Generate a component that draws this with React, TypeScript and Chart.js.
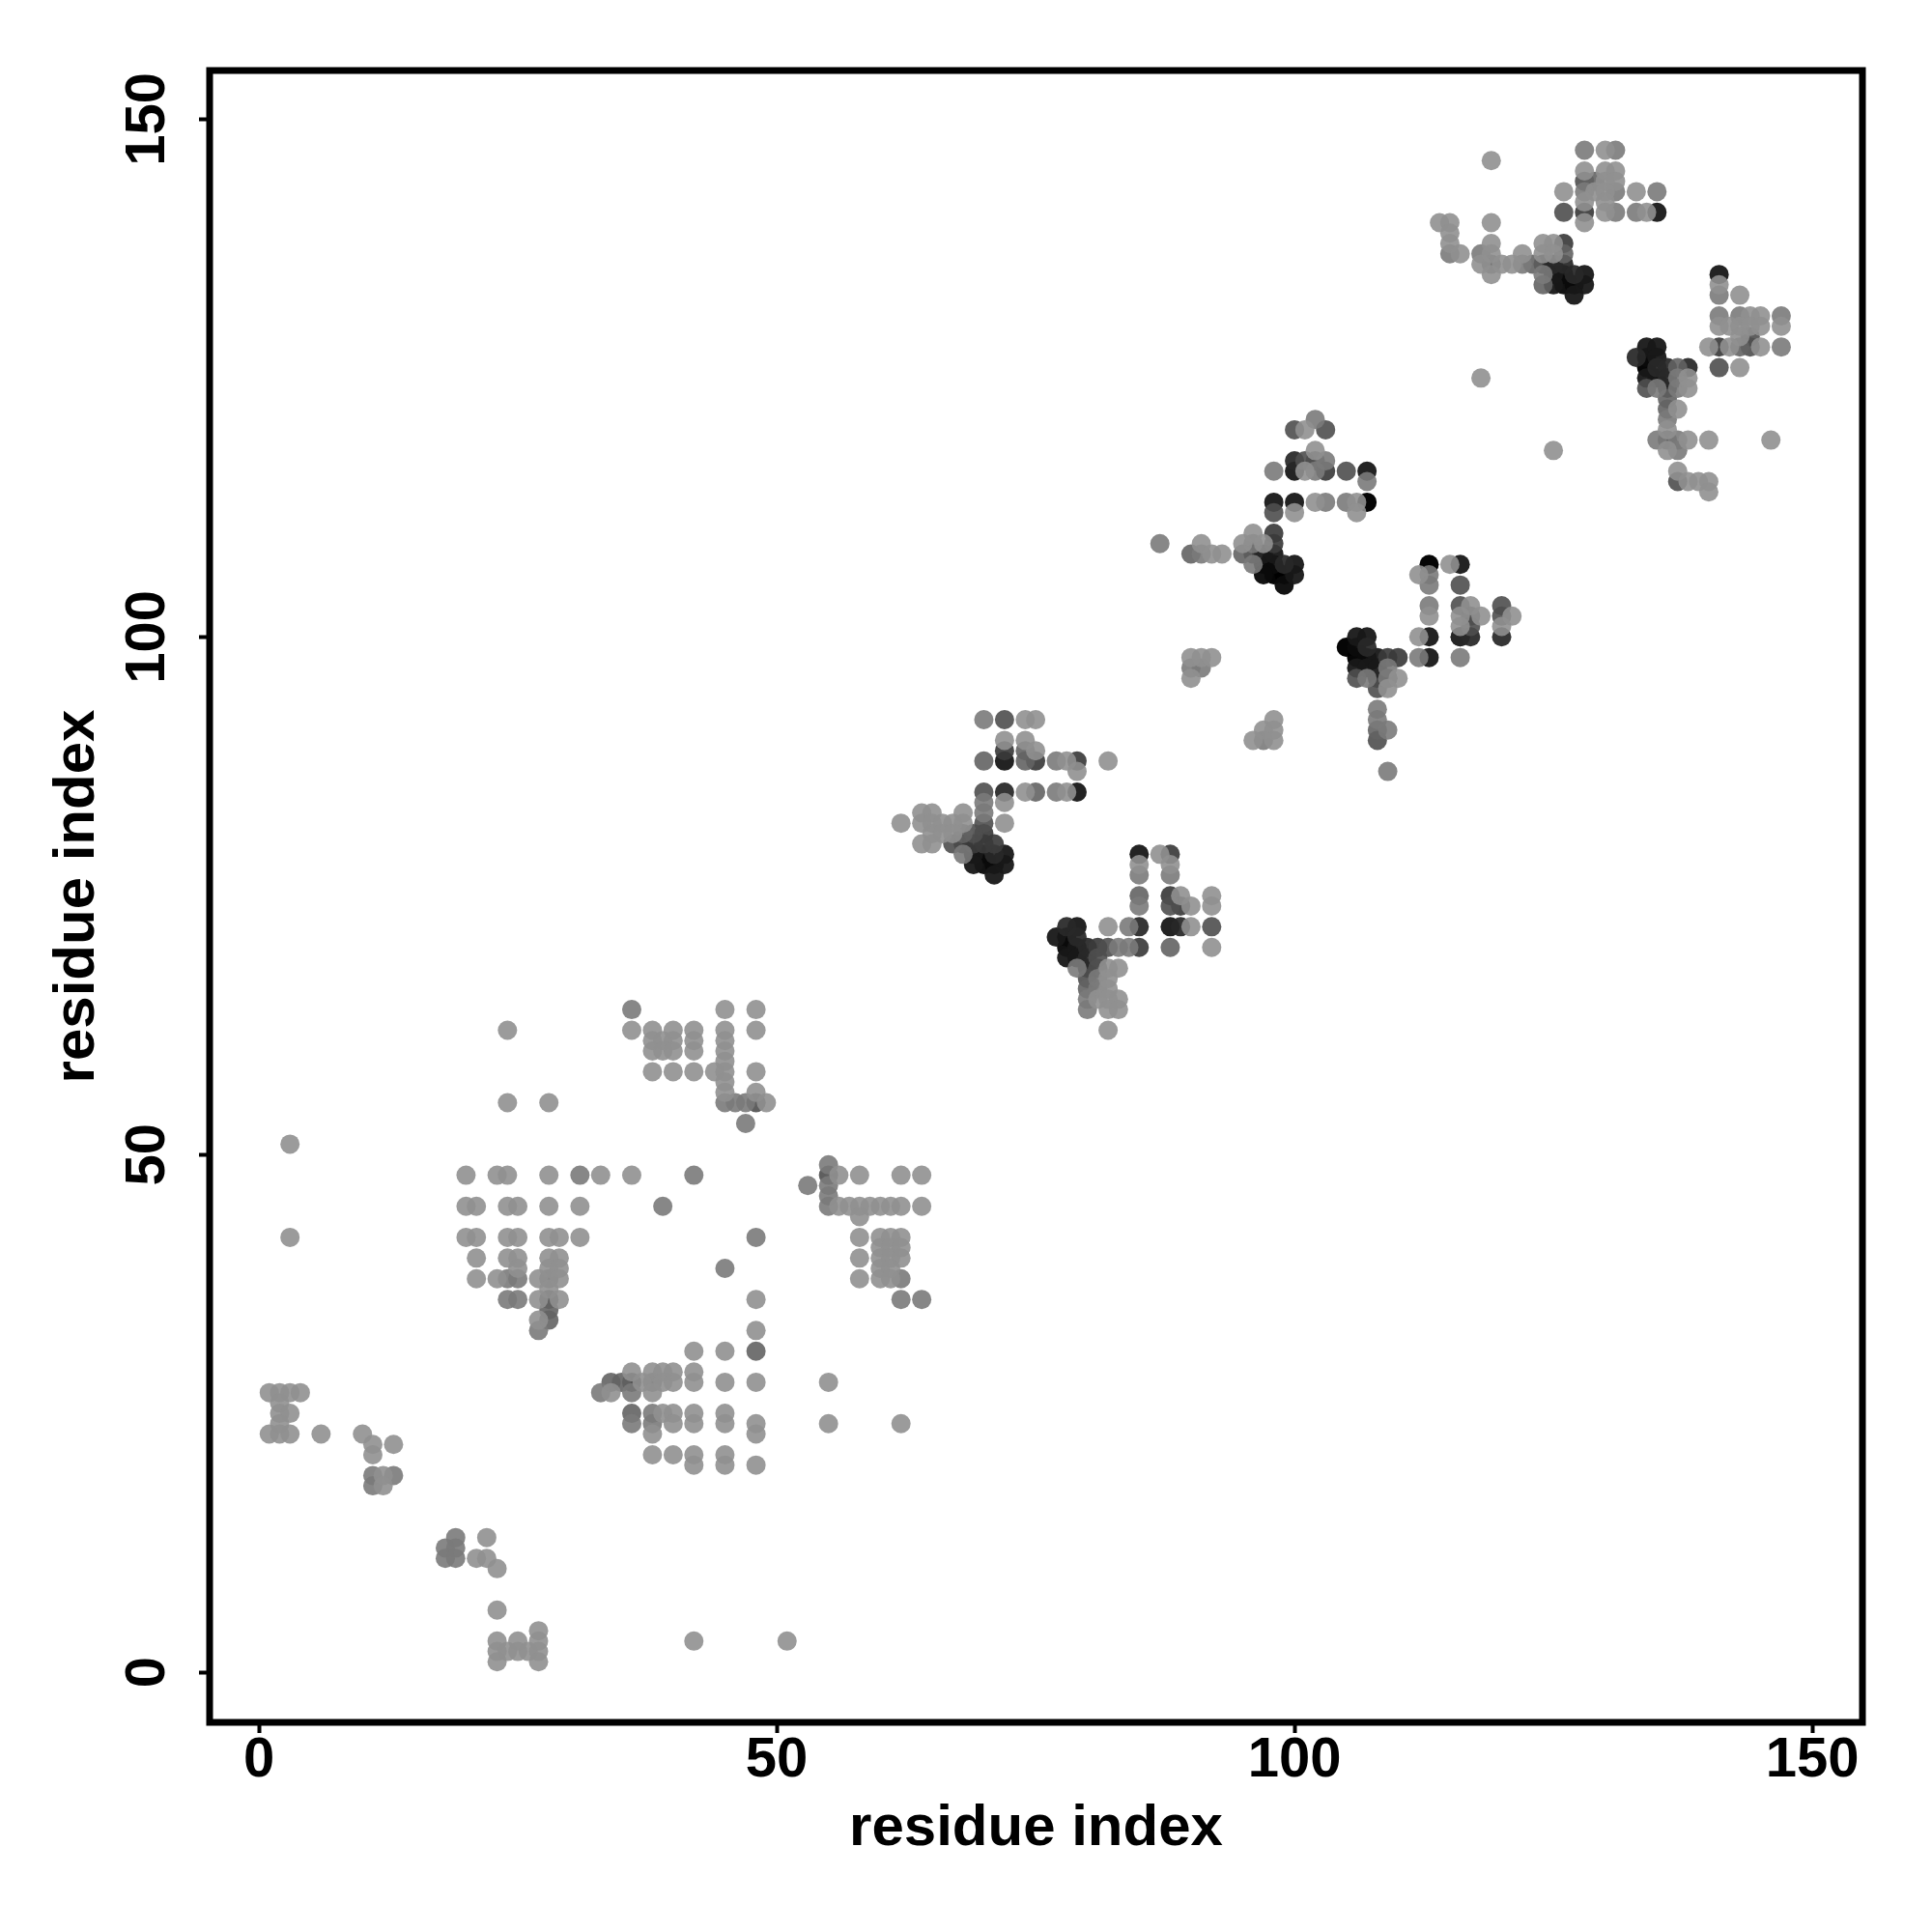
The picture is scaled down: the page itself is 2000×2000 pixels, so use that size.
import React, { useEffect, useRef } from "react";
import { Chart, registerables } from "chart.js";

Chart.register(...registerables);

type P = [number, number];

const tickValues = [0, 50, 100, 150];
const axisTitle = "residue index";

const shade155: P[] = [
  [3,51],[3,42],[1,27],[2,27],[3,27],[4,27],[2,26],[2,25],[3,25],[2,24],[1,23],[2,23],[3,23],[6,23],[10,23],[11,22],[13,22],[11,21],[12,19],[12,18],
  [22,13],[21,11],[22,11],[23,10],[23,6],[27,4],[23,3],[25,3],[27,3],[42,3],[51,3],[23,2],[24,2],[25,2],[26,2],[27,2],[23,1],[27,1],
  [20,48],[23,48],[24,48],[28,48],[33,48],[36,48],[20,45],[21,45],[24,45],[25,45],[28,45],[31,45],[20,42],[21,42],[24,42],[25,42],[28,42],[29,42],[31,42],
  [21,40],[24,40],[25,40],[28,40],[29,40],[25,39],[28,39],[29,39],[21,38],[23,38],[27,38],[29,38],[28,37],[27,36],[29,36],[48,36],[27,34],[48,33],
  [42,31],[45,31],[36,29],[38,29],[39,29],[40,29],[42,29],[37,28],[39,28],[40,28],[42,28],[45,28],[48,28],[55,28],[34,27],[38,27],
  [39,25],[40,25],[42,25],[45,25],[40,24],[42,24],[45,24],[48,24],[55,24],[62,24],[38,23],[48,23],[38,21],[40,21],[42,21],[45,21],[42,20],[45,20],[48,20],
  [24,62],[24,55],[28,55],[45,64],[48,64],[36,62],[38,62],[40,62],[42,62],[45,62],[48,62],[38,61],[39,61],[40,61],[42,61],[45,61],[38,60],[39,60],[40,60],[42,60],[45,60],[45,59],
  [38,58],[40,58],[42,58],[44,58],[45,58],[48,58],[45,57],[45,56],[48,56],[49,55],
  [56,48],[58,48],[62,48],[64,48],[56,45],[57,45],[58,45],[59,45],[60,45],[61,45],[62,45],[64,45],[58,44],[58,42],[60,42],[61,42],[62,42],[60,41],[61,41],[62,41],[58,40],[60,40],[61,40],[62,40],[60,39],[61,39],[58,38],[60,38],[61,38],
  [74,92],[75,92],[72,90],[74,90],[75,89],[78,88],[82,88],[79,87],[74,85],[78,85],[72,84],[64,83],[65,83],[68,83],[62,82],[64,82],[65,82],[66,82],[67,82],[68,82],[72,82],[65,81],[66,81],[67,81],[64,80],[65,80],
  [87,79],[85,78],[88,78],[89,75],[92,75],[90,74],[92,74],[82,72],[90,72],[92,70],[82,68],[83,68],[82,67],[82,66],[81,65],[82,65],[83,65],[82,64],[83,64],[82,62],
  [102,118],[101,120],[101,116],[102,113],[106,113],[100,112],[106,112],[96,110],[91,109],[95,109],[97,109],[92,108],[93,108],
  [115,107],[112,106],[117,103],[113,102],[116,102],[118,102],[121,102],[116,101],[120,101],[112,100],[110,96],[109,95],
  [90,98],[91,98],[92,98],[90,96],[98,92],[97,91],[98,91],[96,90],[98,90],
  [130,147],[119,146],[128,145],[130,145],[131,145],[130,144],[131,144],[126,143],[129,143],[130,143],[133,143],[128,142],[130,142],[130,141],[134,141],[128,140],
  [114,140],[115,140],[119,140],[115,139],[115,138],[119,138],[124,138],[125,138],[116,137],[119,137],[122,137],[124,137],[125,137],[118,136],[120,136],[121,136],[119,135],
  [141,134],[143,133],[144,131],[145,131],[141,130],[142,130],[143,130],[144,130],[145,130],[147,130],[143,129],[140,128],[142,128],[145,128],[143,126],
  [138,125],[138,124],[137,122],[136,120],[138,119],[140,119],[146,119],[125,118],[136,118],[137,116],[138,115],[139,115],[140,115],[140,114],[118,125],
];

const shade135: P[] = [
  [31,48],[42,48],[39,45],[48,42],[45,39],[24,38],[25,38],[28,38],[24,36],[25,36],[27,33],[19,13],[18,12],[19,12],[18,11],[19,11],[11,19],[13,19],[11,18],
  [38,28],[33,27],[36,27],[38,25],[36,24],[38,24],[36,64],[62,36],[64,36],[62,38],[53,47],[47,53],[55,49],[55,47],[55,46],[55,45],[45,55],[46,55],[47,55],
  [70,92],[77,88],[77,85],[70,84],[70,83],[68,79],[85,77],[88,77],[85,74],[84,72],[83,70],[84,70],[79,68],[81,67],[81,66],[80,65],[80,64],
  [102,121],[98,116],[102,116],[107,115],[103,117],[103,113],[105,113],[87,109],[96,109],[91,108],[96,107],
  [113,106],[113,105],[113,103],[112,98],[116,98],[109,97],[107,96],[109,96],[108,93],[108,92],[109,91],[109,87],[90,97],[91,97],[97,90],
  [128,147],[131,147],[128,143],[131,143],[135,143],[131,141],[133,141],[115,137],[118,137],[122,136],[124,135],
  [141,133],[141,131],[143,131],[147,131],[147,128],[137,125],[135,124],[137,124],[136,121],[135,119],[137,119],[137,118],
];

const shade115: P[] = [
  [28,35],[28,34],[48,31],[34,28],[35,28],[36,25],
  [74,89],[70,88],[74,88],[75,85],[68,81],[88,70],[80,66],[85,75],
  [108,91],[90,108],[95,108],[124,134],[126,137],[123,136],[119,136],[129,144],[143,128],[137,126],[136,123],[136,122],
];

const shade95: P[] = [
  [28,36],[55,48],[48,55],[72,92],[70,85],[70,82],[69,81],[67,80],[88,74],[92,72],[81,69],[81,68],[82,70],[80,67],
  [100,120],[103,120],[101,117],[102,117],[98,112],[105,116],[116,105],[116,103],[120,103],[117,102],[120,102],[117,101],[106,96],[108,95],[108,90],
  [126,141],[128,144],[144,129],[144,128],[141,126],[134,124],[136,119],[137,115],
];

const shade75: P[] = [
  [36,28],[72,89],[75,88],[79,88],[70,81],[71,80],[88,79],[88,75],[89,74],[85,70],[81,70],[69,80],[70,80],
  [103,116],[98,110],[98,109],[109,98],[110,98],[109,96],
  [128,141],[126,138],[141,128],
];

const shade55: P[] = [
  [72,85],[68,80],[71,79],[85,72],[89,72],[80,70],[78,72],[79,71],[80,69],[80,68],
  [100,117],[99,107],[96,108],[116,100],[117,100],[120,100],[107,99],[108,96],
  [124,136],[125,136],[126,136],[127,135],[133,127],[135,126],[136,126],[138,126],[136,125],[136,124],
];

const shade35: P[] = [
  [72,88],[79,85],[69,79],[72,79],[69,78],[72,78],[71,77],[85,79],[88,72],[79,72],[77,71],[79,70],[78,69],[79,69],
  [100,116],[107,116],[98,113],[100,113],[97,108],[98,108],[100,107],[100,106],[116,107],[113,100],[113,98],[106,100],[107,100],[108,98],[106,97],[107,97],[108,97],
  [135,141],[125,135],[128,135],[125,134],[128,134],[127,133],[141,135],[134,128],[135,128],[135,127],[134,125],
];

const shade18: P[] = [
  [70,79],[70,78],[71,78],[78,71],[78,70],[97,107],[98,107],[99,105],[97,106],[116,100],[106,99],[107,98],[126,135],[126,134],[134,127],[135,125],
];

const shade5: P[] = [
  [107,113],[113,107],[98,106],[99,106],[105,99],[106,98],[127,134],[134,126],
];

const shadeGroups: [number, P[]][] = [
  [155, shade155], [135, shade135], [115, shade115], [95, shade95], [75, shade75], [55, shade55], [35, shade35], [18, shade18], [5, shade5],
];

function shadeColor(target: number): string {
  const a = 0.98 - 0.08 * Math.min(1, target / 100);
  const g = Math.max(0, Math.round((target - 255 * (1 - a)) / a));
  return `rgba(${g},${g},${g},${a})`;
}

const FAMILY = "'Liberation Sans', Arial, sans-serif";
const TICK_FONT = { family: FAMILY, size: 58, weight: "bold" as const };
const TITLE_FONT = { family: FAMILY, size: 60, weight: "bold" as const };

const framePlugin = {
  id: "frame",
  afterDatasetsDraw(chart: any) {
    const { ctx, chartArea: c } = chart;
    ctx.save();
    ctx.strokeStyle = "#000";
    ctx.lineWidth = 7;
    ctx.lineJoin = "miter";
    ctx.strokeRect(c.left, c.top, c.right - c.left, c.bottom - c.top);
    ctx.restore();
  },
};

export default function App() {
  const ref = useRef<HTMLCanvasElement>(null);
  useEffect(() => {
    const chart = new Chart(ref.current as HTMLCanvasElement, {
      type: "scatter",
      data: {
        datasets: shadeGroups.map(([t, pts]) => ({
          label: `shade ${t}`,
          data: pts.map(([x, y]) => ({ x, y })),
          backgroundColor: shadeColor(t),
          borderWidth: 0,
          pointRadius: 10,
          pointHoverRadius: 10,
        })),
      },
      options: {
        animation: false,
        responsive: false,
        devicePixelRatio: 1,
        events: [],
        layout: { padding: { left: 0, top: 73, right: 72, bottom: 0 } },
        plugins: { legend: { display: false }, tooltip: { enabled: false } },
        scales: {
          x: {
            type: "linear",
            min: -4.76,
            max: 154.84,
            afterBuildTicks: (s: any) => { s.ticks = tickValues.map((value) => ({ value })); },
            afterFit: (s: any) => { s.height = 217; },
            border: { display: false },
            grid: { drawOnChartArea: false, drawTicks: true, tickLength: 11, tickWidth: 4, tickColor: "#000" },
            ticks: { color: "#000", font: TICK_FONT, padding: -6, maxRotation: 0, minRotation: 0, autoSkip: false },
            title: { display: true, text: axisTitle, color: "#000", font: TITLE_FONT, padding: { top: 0, bottom: 71 } },
          },
          y: {
            type: "linear",
            min: -4.85,
            max: 154.7,
            afterBuildTicks: (s: any) => { s.ticks = tickValues.map((value) => ({ value })); },
            afterFit: (s: any) => { s.width = 217; },
            border: { display: false },
            grid: { drawOnChartArea: false, drawTicks: true, tickLength: 11, tickWidth: 4, tickColor: "#000" },
            ticks: { color: "#000", font: TICK_FONT, padding: 4, minRotation: 90, maxRotation: 90, crossAlign: "center", autoSkip: false },
            title: { display: true, text: axisTitle, color: "#000", font: TITLE_FONT, padding: { top: 44, bottom: 0 } },
          },
        },
      } as any,
      plugins: [framePlugin],
    });
    return () => chart.destroy();
  }, []);
  return (
    <canvas
      ref={ref}
      width={2000}
      height={2000}
      style={{ position: "absolute", left: 0, top: 0, display: "block", background: "#fff" }}
    />
  );
}
